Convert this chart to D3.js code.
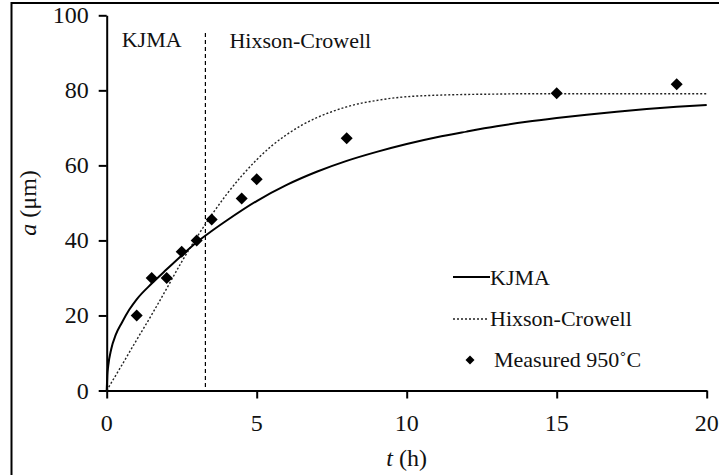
<!DOCTYPE html>
<html><head><meta charset="utf-8">
<script src="https://cdn.jsdelivr.net/npm/d3@7"></script>
<style>
body{margin:0;background:#fff}
svg{display:block}
.lbl{font-family:Liberation Serif, Tinos, serif}
</style>
</head>
<body>
<svg id="c" width="719" height="475"></svg>
<script>
const xTicks=[0,5,10,15,20];
const yTicks=[0,20,40,60,80,100];
const measuredT=[1,1.5,2,2.5,3,3.5,4.5,5,8,15,19];
const measuredA=[20,30,30,37,40,45.6,51.2,56.3,67.2,79.2,81.6];
const kjmaT=[0,0.02,0.05,0.15,0.3,0.5,0.75,1,1.5,2,2.5,3,3.5,4,5,6,7,8,9,10,11,12,13,14,15,16,17,18,19,20];
const kjmaA=[0,4,6.5,11,14.8,18,21.5,24.3,28.5,32.3,36,39.5,42.5,45.3,50.5,54.8,58.3,61.2,63.6,65.7,67.5,69.0,70.4,71.6,72.6,73.5,74.3,75.0,75.6,76.1];
const hcT=[0,0.5,1,1.5,2,2.5,3,3.5,4,4.5,5,5.5,6,6.5,7,7.5,8,8.5,9,9.5,10,11,12,13,14,16,18,20];
const hcA=[0,6.7,13.5,20.2,27.2,34.3,40.8,46.8,52.3,57.2,61.5,65.2,68.2,70.7,72.7,74.3,75.6,76.6,77.3,77.9,78.3,78.7,78.9,79.0,79.1,79.1,79.1,79.1];
const regionBoundary=3.29;
const regionLabels=["KJMA","Hixson-Crowell"];
const legendLabels=["KJMA","Hixson-Crowell","Measured 950\u02DAC"];

const svg=d3.select("#c");
const x=d3.scaleLinear().domain([0,20]).range([106.7,706.7]);
const y=d3.scaleLinear().domain([0,100]).range([390.5,15.3]);

function txt(sel,size){
  return sel.append("text").attr("class","lbl").attr("font-family","Liberation Serif").attr("font-size",size).attr("fill","#111");
}

// frame (left + top)
svg.append("path").attr("d","M11.5,475V3H719").attr("fill","none").attr("stroke","#000").attr("stroke-width",2);

// axes
const ya=svg.append("g").attr("transform",`translate(${x(0)},0)`)
  .call(d3.axisLeft(y).tickValues(yTicks).tickSize(8).tickSizeOuter(0).tickFormat(""));
const xa=svg.append("g").attr("transform",`translate(0,${y(0)})`)
  .call(d3.axisBottom(x).tickValues(xTicks).tickSize(8).tickSizeOuter(0).tickFormat(""));
[ya,xa].forEach(g=>g.selectAll("path,line").attr("stroke","#000").attr("stroke-width",2));
yTicks.forEach(v=>txt(svg,24).attr("x",x(0)-18).attr("y",y(v)+8).attr("text-anchor","end").text(String(v)));
xTicks.forEach(v=>txt(svg,24).attr("x",x(v)).attr("y",y(0)+40).attr("text-anchor","middle").text(String(v)));

// axis titles
const xt=txt(svg,24).attr("x",x(10)).attr("y",466).attr("text-anchor","middle");
xt.append("tspan").attr("font-style","italic").text("t");
xt.append("tspan").text(" (h)");
const yt=txt(svg,24).attr("transform",`translate(36,${y(50)}) rotate(-90)`).attr("text-anchor","middle");
yt.append("tspan").attr("font-style","italic").text("a");
yt.append("tspan").text(" (\u03BCm)");

// region boundary
svg.append("line").attr("x1",x(regionBoundary)).attr("x2",x(regionBoundary))
  .attr("y1",y(95.3)).attr("y2",y(0)).attr("stroke","#000").attr("stroke-width",1.2).attr("stroke-dasharray","4,3");
txt(svg,22).attr("x",x(0.5)).attr("y",47).text(regionLabels[0]);
txt(svg,22).attr("x",x(regionBoundary)+24).attr("y",48).text(regionLabels[1]);

// curves
const line=d3.line().x(d=>x(d[0])).y(d=>y(d[1])).curve(d3.curveMonotoneX);
svg.append("path").datum(hcT.map((t,i)=>[t,hcA[i]])).attr("d",line)
  .attr("fill","none").attr("stroke","#222").attr("stroke-width",1.4).attr("stroke-dasharray","2,2");
svg.append("path").datum(kjmaT.map((t,i)=>[t,kjmaA[i]])).attr("d",line)
  .attr("fill","none").attr("stroke","#000").attr("stroke-width",2);

// markers
const sym=d3.symbol().type(d3.symbolDiamond2).size(92);
svg.append("g").selectAll("path").data(measuredT.map((t,i)=>[t,measuredA[i]])).join("path")
  .attr("d",sym).attr("transform",d=>`translate(${x(d[0])},${y(d[1])})`).attr("fill","#000");

// legend
svg.append("line").attr("x1",453).attr("x2",490).attr("y1",277).attr("y2",277).attr("stroke","#000").attr("stroke-width",2);
txt(svg,22).attr("x",490).attr("y",285).text(legendLabels[0]);
svg.append("line").attr("x1",453).attr("x2",489).attr("y1",319).attr("y2",319).attr("stroke","#222").attr("stroke-width",1.4).attr("stroke-dasharray","2,2");
txt(svg,22).attr("x",490).attr("y",326).text(legendLabels[1]);
svg.append("path").attr("d",d3.symbol().type(d3.symbolDiamond2).size(52)).attr("transform","translate(470,360)").attr("fill","#000");
txt(svg,22).attr("x",494).attr("y",367).text(legendLabels[2]);
</script></body></html>
